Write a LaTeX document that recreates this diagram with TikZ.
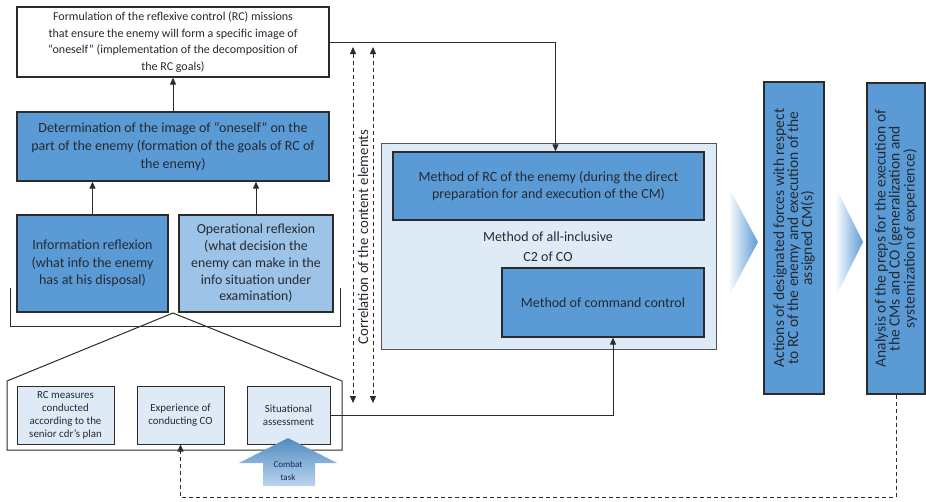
\documentclass[tikz,border=0pt]{standalone}
\usepackage{fontspec}
\setmainfont{Carlito}
\usetikzlibrary{arrows.meta}
\definecolor{midblue}{HTML}{5B9BD5}
\definecolor{softblue}{HTML}{9DC3E6}
\definecolor{paleblue}{HTML}{DEEBF7}
\definecolor{inkgray}{HTML}{232A33}
\definecolor{framegray}{HTML}{2B2B2B}
\begin{document}
\begin{tikzpicture}[
            x=1pt, y=-1pt,
            >={Triangle[length=7pt,width=6pt]},
            box/.style={draw=framegray,line width=1.3pt,text=inkgray,align=center,inner sep=2pt,font=\fontsize{14}{17.5}\selectfont},
            white box/.style={box,fill=white,font=\fontsize{12}{16.5}\selectfont},
            dark box/.style={box,fill=midblue},
            soft box/.style={box,fill=softblue,font=\fontsize{13.8}{16.8}\selectfont},
            small box/.style={box,fill=paleblue,line width=1pt,font=\fontsize{10.9}{13}\selectfont},
            side box/.style={box,fill=midblue,rotate=90,font=\fontsize{15.5}{14}\selectfont},
            frame box/.style={draw=framegray!80,line width=0.9pt,fill=paleblue},
            every edge/.style={draw=framegray,line width=1pt,->},
            link/.style={draw=framegray,line width=1pt},
            corr line/.style={draw=framegray,line width=1pt,dash pattern=on 4pt off 3pt,<->},
            feedback/.style={draw=framegray,line width=1pt,dash pattern=on 4pt off 3pt,->},
            chevron/.style={left color=white,right color=midblue,draw=none},
        ]
            \useasboundingbox (0,0) rectangle (926,501);

            \node[white box,minimum width=312,minimum height=70] (form) at (173,42)
                {Formulation of the reflexive control (RC) missions\\that ensure the enemy will form a specific image of\\``oneself'' (implementation of the decomposition of\\the RC goals)};
            \node[dark box,minimum width=312,minimum height=69,font=\fontsize{14}{18}\selectfont] (determ) at (173,146.5)
                {Determination of the image of ``oneself'' on the\\part of the enemy (formation of the goals of RC of\\the enemy)};
            \node[dark box,minimum width=151,minimum height=97] (inforefl) at (92.5,263.5)
                {Information reflexion\\(what info the enemy\\has at his disposal)};
            \node[soft box,minimum width=154,minimum height=97] (operefl) at (256,263.5)
                {Operational reflexion\\(what decision the\\enemy can make in the\\info situation under\\examination)};

            \draw[link] (10,288) -- (10,326) -- (340,326) -- (340,288);
            \draw[link] (7,450) -- (7,381) -- (173,313) -- (342,381) -- (342,450) -- cycle;

            \node[small box,minimum width=97,minimum height=58] (rcmeas) at (65.5,415)
                {RC measures\\conducted\\according to the\\senior cdr's plan};
            \node[small box,minimum width=87,minimum height=58] (exper) at (180.5,415)
                {Experience of\\conducting CO};
            \node[small box,minimum width=83,minimum height=58] (situ) at (288.5,415)
                {Situational\\assessment};

            \path[top color=midblue!90!black,bottom color=softblue!70!white]
                (288,438) -- (337,463) -- (315,463) -- (315,486) -- (263,486) -- (263,463) -- (239,463) -- cycle;
            \node[text=inkgray!80!blue,align=center,font=\fontsize{9}{13}\selectfont] (combat) at (288,471) {Combat\\task};

            \node[frame box,minimum width=335,minimum height=206] (c2) at (548.5,246) {};
            \node[dark box,minimum width=311,minimum height=68,font=\fontsize{14}{17}\selectfont] (rcmeth) at (548.5,186)
                {Method of RC of the enemy (during the direct\\preparation for and execution of the CM)};
            \node[text=inkgray,align=center,font=\fontsize{14}{20}\selectfont] (c2 label) at (548,247)
                {Method of all-inclusive\\C2 of CO};
            \node[dark box,minimum width=202,minimum height=69] (cmdctl) at (603,302.5)
                {Method of command control};

            \coordinate (corr top a) at (353,47);
            \coordinate (corr bot a) at (353,403);
            \coordinate (corr top b) at (373,47);
            \coordinate (corr bot b) at (373,403);
            \draw[corr line] (corr top a) -- (corr bot a);
            \draw[corr line] (corr top b) -- (corr bot b);
            \node[rotate=90,text=inkgray,font=\fontsize{14.8}{14}\selectfont] (corr label) at (363,237)
                {Correlation of the content elements};

            \path[chevron] (728,186) -- (758,242) -- (728,298) -- cycle;
            \path[chevron] (835,186) -- (863,242) -- (835,298) -- cycle;

            \node[side box,minimum width=312,minimum height=60] (actions) at (794,238)
                {Actions of designated forces with respect\\to RC of the enemy and execution of the\\assigned CM(s)};
            \node[side box,minimum width=311,minimum height=58] (analysis) at (896,238.5)
                {Analysis of the preps for the execution of\\the CMs and CO (generalization and\\systemization of experience)};

            \coordinate (fbk) at (0,497);

            \path (determ) edge (form);
            \path (inforefl.north) edge (inforefl.north |- determ.south);
            \path (operefl.north) edge (operefl.north |- determ.south);
            \draw[link,->] (form.east) -| ([xshift=7pt]rcmeth.north);
            \draw[link,->] (situ.east) -| ([xshift=10pt]cmdctl.south);
            \draw[feedback] (analysis.west) -- (analysis.west |- fbk) -| (exper.south);
        \end{tikzpicture}
\end{document}
